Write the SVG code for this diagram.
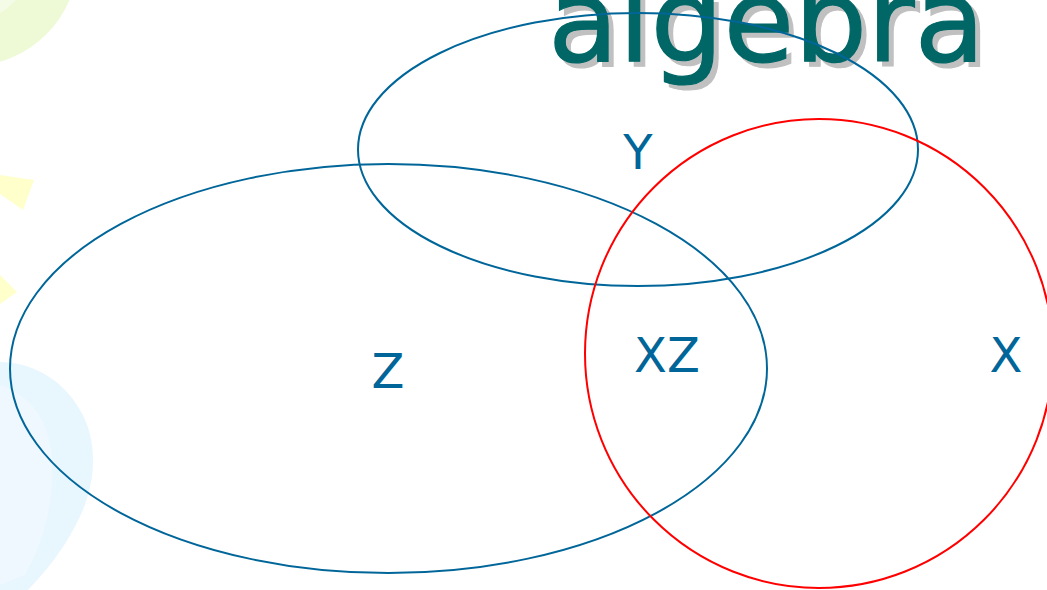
<svg xmlns="http://www.w3.org/2000/svg" width="1047" height="590" viewBox="0 0 1047 590">
  <style>
    .set { fill: none; stroke: #006699; stroke-width: 2; }
    .setx { fill: none; stroke: #ff0000; stroke-width: 2; }
    .lbl { font-family: "DejaVu Sans", Verdana, sans-serif; font-size: 48px; fill: #006699; }
    .title { font-family: "DejaVu Sans", Verdana, sans-serif; font-size: 115px; stroke-width: 1.2px; }
  </style>
  <rect width="1047" height="590" fill="#ffffff"/>
  <g id="background">
    <circle cx="-30" cy="-42" r="108" fill="#eef9d6"/>
    <circle cx="-40" cy="-50" r="75" fill="#f4fbe6"/>
    <polygon points="0,175 34,180 23,210 0,194" fill="#ffffcc"/>
    <polygon points="0,275 17,292 0,304" fill="#ffffcc"/>
    <path d="M0,362 C30,362 62,378 80,410 C98,440 96,480 82,512 C66,548 45,572 28,590 L0,590 Z" fill="#e8f6fe"/>
    <path d="M0,385 C30,395 50,420 52,460 C54,500 45,540 25,575 L0,585 Z" fill="#eef8fe"/>
  </g>
  <g id="title">
    <text class="title" x="553" y="66" fill="#c0c0c0" stroke="#c0c0c0">algebra</text>
    <text class="title" x="548" y="61" fill="#006666" stroke="#006666">algebra</text>
  </g>
  <g id="connectors"></g>
  <g id="node-Y">
    <ellipse class="set" cx="638" cy="149.5" rx="280" ry="136.5"/>
    <text class="lbl" x="638" y="169" text-anchor="middle">Y</text>
  </g>
  <g id="node-Z">
    <ellipse class="set" cx="388.5" cy="368.5" rx="378.5" ry="204.5"/>
    <text class="lbl" x="388" y="388" text-anchor="middle">Z</text>
  </g>
  <g id="node-X">
    <ellipse class="setx" cx="819" cy="353.5" rx="234" ry="234.5"/>
    <text class="lbl" x="1006" y="372" text-anchor="middle">X</text>
  </g>
  <g id="node-XZ">
    <text class="lbl" x="667" y="372" text-anchor="middle">XZ</text>
  </g>
</svg>
